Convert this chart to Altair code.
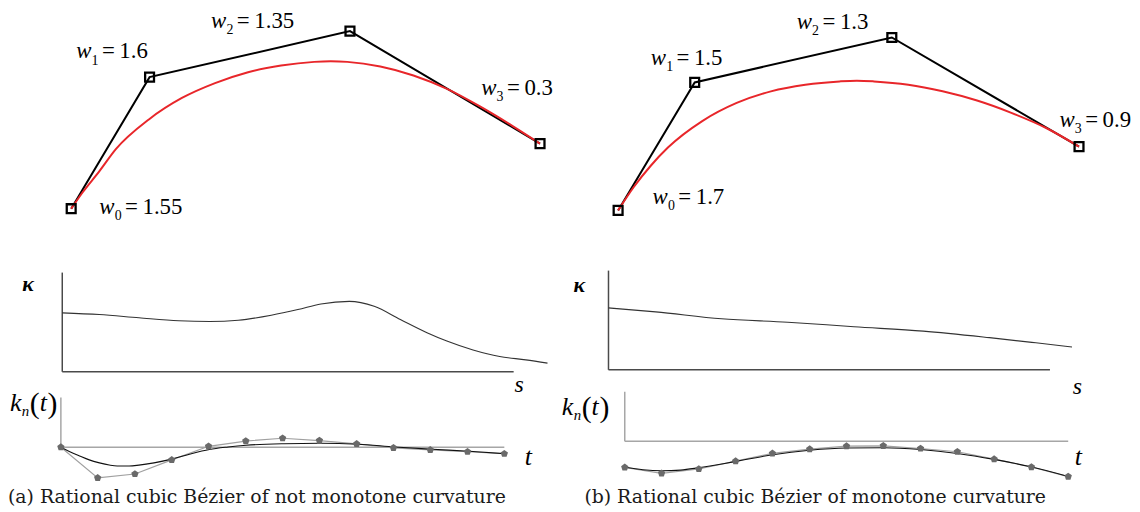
import altair as alt
import pandas as pd

SERIF = "Liberation Serif"
CAPFONT = "DejaVu Serif"

# ---------------- (a) rational cubic: control polygon, weights, curve ----------------
a_ctrl_x = [0.0, 0.79, 2.81, 4.726]
a_ctrl_y = [0.0, 1.326, 1.79, 0.656]
a_weights = ["1.55", "1.6", "1.35", "0.3"]
a_lab_x = [0.283, 0.05, 1.41, 4.133]
a_lab_y = [-0.05, 1.516, 1.823, 1.15]
a_curve_x = [0.0, 0.116, 0.283, 0.45, 0.783, 1.116, 1.45, 1.783, 2.116, 2.45, 2.616,
             2.783, 3.116, 3.45, 3.783, 4.116, 4.45, 4.726]
a_curve_y = [0.0, 0.166, 0.376, 0.6, 0.9, 1.116, 1.266, 1.376, 1.443, 1.48, 1.486,
             1.48, 1.433, 1.343, 1.21, 1.033, 0.833, 0.656]

# (a) curvature vs arc length
a_s = [0.0, 0.082, 0.170, 0.258, 0.327, 0.390, 0.463, 0.522, 0.573, 0.636, 0.691,
       0.749, 0.808, 0.852, 0.910, 0.969, 1.027, 1.075]
a_kappa = [0.594, 0.577, 0.544, 0.514, 0.507, 0.520, 0.570, 0.627, 0.684, 0.710, 0.660,
           0.527, 0.394, 0.310, 0.220, 0.154, 0.120, 0.087]

# (a) k_n(t): sampled points and smooth curve
kn_t = [0.0, 0.083, 0.167, 0.25, 0.333, 0.417, 0.5, 0.583, 0.667, 0.75, 0.833, 0.917, 1.0]
a_kn_pts = [0.0, -0.62, -0.54, -0.256, 0.018, 0.124, 0.18, 0.134, 0.068, -0.012,
            -0.056, -0.092, -0.132]
a_kn_ct = [0.0, 0.019, 0.042, 0.064, 0.087, 0.109, 0.127, 0.154, 0.176, 0.21, 0.252,
           0.292, 0.335, 0.377, 0.418, 0.503, 0.585, 0.67, 0.753, 0.838, 0.921, 1.0]
a_kn_cv = [0.0, -0.086, -0.176, -0.256, -0.316, -0.36, -0.38, -0.38, -0.362, -0.316,
           -0.236, -0.136, -0.046, 0.004, 0.04, 0.07, 0.078, 0.06, 0.004, -0.042,
           -0.082, -0.13]

# ---------------- (b) rational cubic ----------------
b_ctrl_x = [0.0, 0.772, 2.759, 4.646]
b_ctrl_y = [0.0, 1.29, 1.743, 0.643]
b_weights = ["1.7", "1.5", "1.3", "0.9"]
b_lab_x = [0.347, 0.329, 1.8, 4.448]
b_lab_y = [0.067, 1.467, 1.833, 0.843]
b_curve_x = [0.0, 0.156, 0.329, 0.502, 0.848, 1.195, 1.54, 1.887, 2.233, 2.406, 2.579,
             2.925, 3.271, 3.618, 3.964, 4.31, 4.646]
b_curve_y = [0.0, 0.233, 0.45, 0.633, 0.9, 1.083, 1.2, 1.267, 1.3, 1.307, 1.3,
             1.267, 1.2, 1.107, 0.983, 0.833, 0.643]

b_s = [0.0, 0.107, 0.256, 0.406, 0.556, 0.713, 0.863, 0.968, 1.05]
b_kappa = [0.624, 0.584, 0.514, 0.48, 0.434, 0.39, 0.324, 0.272, 0.23]

b_kn_pts = [-0.526, -0.646, -0.56, -0.4, -0.246, -0.16, -0.1, -0.092, -0.146, -0.212,
            -0.36, -0.52, -0.712]
b_kn_ct = [0.0, 0.041, 0.083, 0.126, 0.166, 0.251, 0.334, 0.417, 0.5, 0.584, 0.667,
           0.75, 0.833, 0.916, 1.0]
b_kn_cv = [-0.526, -0.576, -0.596, -0.582, -0.536, -0.406, -0.272, -0.182, -0.136,
           -0.13, -0.166, -0.246, -0.366, -0.516, -0.712]

captions = ["(a) Rational cubic Bézier of not monotone curvature",
            "(b) Rational cubic Bézier of monotone curvature"]

# annotation anchors (data units of each panel)
a_kappa_lab = (-0.076, 0.887); a_s_lab = (1.012, -0.133)
b_kappa_lab = (-0.066, 0.857); b_s_lab = (1.062, -0.173)
a_kn_lab = (-0.115, 0.734); a_t_lab = (1.054, -0.196)
b_kn_lab = (-0.142, 0.52); b_t_lab = (1.023, -0.326)

# ---------------- layout (reference-pixel geometry of each panel) ----------------
COLS = {"a": (8, 575), "b": (571, 1136)}
ROWS = [(8, 240), (240, 392), (392, 485)]
ORIG = {
    ("a", 0): ((71.7, 208.3), (100, 100)),
    ("b", 0): ((619.0, 210.0), (100, 100)),
    ("a", 1): ((62.7, 372.7), (455, 100)),
    ("b", 1): ((609.3, 370.7), (445, 100)),
    ("a", 2): ((61.3, 448.7), (447, 50)),
    ("b", 2): ((625.7, 442.7), (447, 50)),
}


def domains(col, row):
    (ox, oy), (ux, uy) = ORIG[(col, row)]
    L, R = COLS[col]
    T, B = ROWS[row]
    return [(L - ox) / ux, (R - ox) / ux], [(oy - B) / uy, (oy - T) / uy], R - L, B - T


def sc(d):
    return alt.Scale(domain=d, nice=False, zero=False)


def XY(xd, yd, xf="x", yf="y"):
    return dict(x=alt.X(xf, type="quantitative", scale=sc(xd), axis=None),
                y=alt.Y(yf, type="quantitative", scale=sc(yd), axis=None))


def axes_layer(xd, yd, xend, color, width):
    df = pd.DataFrame({"x": [0, 0], "x2": [0, xend], "y": [0, 0], "y2": [1, 0]})
    return alt.Chart(df).mark_rule(color=color, strokeWidth=width).encode(
        **XY(xd, yd), x2="x2:Q", y2="y2:Q")


def curve_panel(col, cx, cy, wts, lx, ly, px, py):
    xd, yd, W, H = domains(col, 0)
    ctrl = pd.DataFrame({"x": cx, "y": cy, "i": list(range(len(cx)))})
    crv = pd.DataFrame({"x": px, "y": py, "i": list(range(len(px)))})
    lab = pd.DataFrame({"x": lx, "y": ly, "sub": ["0", "1", "2", "3"],
                        "eq": ["=\u2009" + v for v in wts]})
    poly = alt.Chart(ctrl).mark_line(color="black", strokeWidth=2).encode(
        **XY(xd, yd), order="i:Q")
    red = alt.Chart(crv).mark_line(color="#e8262a", strokeWidth=2,
                                   interpolate="monotone").encode(**XY(xd, yd), order="i:Q")
    sq = alt.Chart(ctrl).mark_point(shape="square", size=80, filled=False, color="black",
                                    strokeWidth=2.3, opacity=1).encode(**XY(xd, yd))
    tw = alt.Chart(lab).mark_text(text="w", font=SERIF, fontSize=23, fontStyle="italic",
                                  align="left", baseline="alphabetic", color="black").encode(**XY(xd, yd))
    ts = alt.Chart(lab).mark_text(font=SERIF, fontSize=14, align="left", baseline="alphabetic",
                                  dx=15.5, dy=6.5, color="black").encode(**XY(xd, yd), text="sub:N")
    te = alt.Chart(lab).mark_text(font=SERIF, fontSize=23, align="left", baseline="alphabetic",
                                  dx=26, color="black").encode(**XY(xd, yd), text="eq:N")
    return alt.layer(poly, red, sq, tw, ts, te).properties(width=W, height=H)


def kappa_panel(col, s, k, klab, slab):
    xd, yd, W, H = domains(col, 1)
    df = pd.DataFrame({"x": s, "y": k, "i": list(range(len(s)))})
    ax = axes_layer(xd, yd, 1, "#4a4a4a", 1.5)
    line = alt.Chart(df).mark_line(color="#333333", strokeWidth=1.1,
                                   interpolate="monotone").encode(**XY(xd, yd), order="i:Q")
    kl = alt.Chart(pd.DataFrame({"x": [klab[0]], "y": [klab[1]]})).mark_text(
        text="κ", font=SERIF, fontSize=22, fontStyle="italic", fontWeight="bold",
        align="center", baseline="middle", color="black").encode(**XY(xd, yd))
    sl = alt.Chart(pd.DataFrame({"x": [slab[0]], "y": [slab[1]]})).mark_text(
        text="s", font=SERIF, fontSize=24, fontStyle="italic",
        align="center", baseline="middle", color="black").encode(**XY(xd, yd))
    return alt.layer(ax, line, kl, sl).properties(width=W, height=H)


PENT = "M0,-1L0.951,-0.309L0.588,0.809L-0.588,0.809L-0.951,-0.309Z"


def kn_panel(col, pts, ct, cv, knlab, tlab, caption, cap_dx):
    xd, yd, W, H = domains(col, 2)
    pdf = pd.DataFrame({"x": kn_t, "y": pts, "i": list(range(len(kn_t)))})
    cdf = pd.DataFrame({"x": ct, "y": cv, "i": list(range(len(ct)))})
    ax = axes_layer(xd, yd, 1, "#a6a6a6", 1.5)
    gray = alt.Chart(pdf).mark_line(color="#a0a0a0", strokeWidth=1.2).encode(
        **XY(xd, yd), order="i:Q")
    blk = alt.Chart(cdf).mark_line(color="#111111", strokeWidth=1.1,
                                   interpolate="monotone").encode(**XY(xd, yd), order="i:Q")
    dots = alt.Chart(pdf).mark_point(shape=PENT, size=60, filled=True, color="#6a6a6a",
                                     opacity=1).encode(**XY(xd, yd))
    ldf = pd.DataFrame({"x": [knlab[0]], "y": [knlab[1]]})
    parts = [
        dict(text="k", fontSize=26, fontStyle="italic", dx=0, dy=0),
        dict(text="n", fontSize=15, fontStyle="italic", dx=12, dy=5),
        dict(text="(", fontSize=30, fontStyle="normal", dx=20, dy=2),
        dict(text="t", fontSize=26, fontStyle="italic", dx=30, dy=0),
        dict(text=")", fontSize=30, fontStyle="normal", dx=38, dy=2),
    ]
    labs = [alt.Chart(ldf).mark_text(font=SERIF, align="left", baseline="alphabetic",
                                     color="black", **p).encode(**XY(xd, yd)) for p in parts]
    tl = alt.Chart(pd.DataFrame({"x": [tlab[0]], "y": [tlab[1]]})).mark_text(
        text="t", font=SERIF, fontSize=26, fontStyle="italic",
        align="center", baseline="middle", color="black").encode(**XY(xd, yd))
    return alt.layer(ax, gray, blk, dots, *labs, tl).properties(
        width=W, height=H,
        title=alt.TitleParams(text=caption, orient="bottom", anchor="start", frame="group",
                              offset=20, dx=cap_dx, font=CAPFONT, fontSize=19,
                              fontWeight="normal", color="#1a1a1a", baseline="alphabetic"))


panels = [
    curve_panel("a", a_ctrl_x, a_ctrl_y, a_weights, a_lab_x, a_lab_y, a_curve_x, a_curve_y),
    curve_panel("b", b_ctrl_x, b_ctrl_y, b_weights, b_lab_x, b_lab_y, b_curve_x, b_curve_y),
    kappa_panel("a", a_s, a_kappa, a_kappa_lab, a_s_lab),
    kappa_panel("b", b_s, b_kappa, b_kappa_lab, b_s_lab),
    kn_panel("a", a_kn_pts, a_kn_ct, a_kn_cv, a_kn_lab, a_t_lab, captions[0], 0),
    kn_panel("b", b_kn_pts, b_kn_ct, b_kn_cv, b_kn_lab, b_t_lab, captions[1], 14),
]

chart = alt.concat(*panels, columns=2, spacing=0, bounds="flush").properties(
    padding=0, background="white").configure_view(stroke=None)

chart.save("out.html", embed_options={"renderer": "svg", "actions": False})
